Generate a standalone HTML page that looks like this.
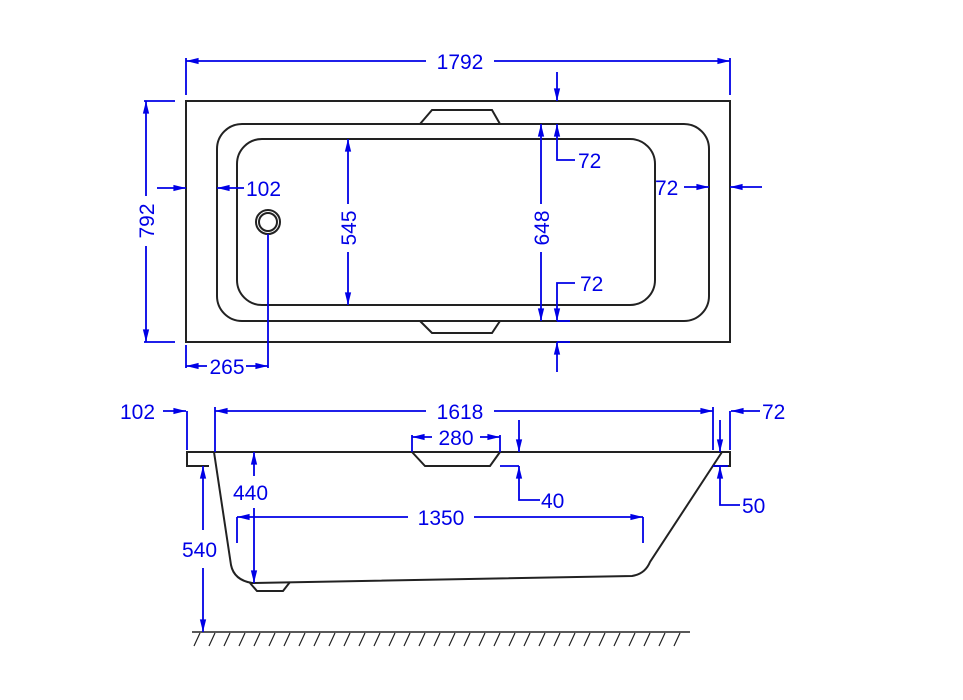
<!DOCTYPE html>
<html><head><meta charset="utf-8"><style>
html,body{margin:0;padding:0;background:#fff;}
svg{display:block;}
text{font-family:"Liberation Sans",sans-serif;font-size:21px;fill:#0000e6;}
</style></head><body>
<svg width="963" height="700" viewBox="0 0 963 700" xmlns="http://www.w3.org/2000/svg">
<defs>
<marker id="a" viewBox="0 0 14 10" refX="14" refY="5" markerWidth="14" markerHeight="9" orient="auto-start-reverse" markerUnits="userSpaceOnUse"><path d="M0,1.5 L14,5 L0,8.5 z" fill="#0000e6"/></marker>
</defs>
<g fill="none" stroke="#222" stroke-width="2">
<rect x="186" y="101" width="544" height="241"/>
<rect x="217" y="124" width="492" height="197" rx="25"/>
<rect x="237" y="139" width="418" height="166" rx="25"/>
<path d="M420,124 L432,110 L492,110 L500,124"/>
<path d="M420,321 L432,333 L492,333 L500,321"/>
<circle cx="268" cy="222" r="12"/><circle cx="268" cy="222" r="9"/>
<path d="M209,466 L187,466 L187,452 L730,452 L730,466 L713,466"/>
<path d="M214,452 L231,565 Q234,580 252,583 L632,576 Q645,574 650,562 L722,452"/>
<path d="M412,452 L425,466 L490,466 L500,452"/>
<path d="M250,583 L257,591 L283,591 L290,582"/>
<line x1="192" y1="632" x2="690" y2="632" stroke-width="1.5"/>
</g>
<g stroke="#222" stroke-width="1.2">
<path d="M200,633 l-6,13 M215,633 l-6,13 M230,633 l-6,13 M245,633 l-6,13 M260,633 l-6,13 M275,633 l-6,13 M290,633 l-6,13 M305,633 l-6,13 M320,633 l-6,13 M335,633 l-6,13 M350,633 l-6,13 M365,633 l-6,13 M380,633 l-6,13 M395,633 l-6,13 M410,633 l-6,13 M425,633 l-6,13 M440,633 l-6,13 M455,633 l-6,13 M470,633 l-6,13 M485,633 l-6,13 M500,633 l-6,13 M515,633 l-6,13 M530,633 l-6,13 M545,633 l-6,13 M560,633 l-6,13 M575,633 l-6,13 M590,633 l-6,13 M605,633 l-6,13 M620,633 l-6,13 M635,633 l-6,13 M650,633 l-6,13 M665,633 l-6,13 M680,633 l-6,13"/>
</g>
<g fill="none" stroke="#0000e6" stroke-width="1.8">
<line x1="186" y1="58" x2="186" y2="95"/><line x1="730" y1="58" x2="730" y2="95"/>
<line x1="186" y1="61" x2="426" y2="61" marker-start="url(#a)"/><line x1="494" y1="61" x2="730" y2="61" marker-end="url(#a)"/>
<line x1="144" y1="101" x2="175" y2="101"/><line x1="144" y1="342" x2="175" y2="342"/>
<line x1="146" y1="101" x2="146" y2="196" marker-start="url(#a)"/><line x1="146" y1="246" x2="146" y2="342" marker-end="url(#a)"/>
<line x1="157" y1="188" x2="186" y2="188" marker-end="url(#a)"/>
<line x1="244" y1="188" x2="217" y2="188" marker-end="url(#a)"/>
<line x1="348" y1="139" x2="348" y2="204" marker-start="url(#a)"/><line x1="348" y1="252" x2="348" y2="305" marker-end="url(#a)"/>
<line x1="541" y1="124" x2="541" y2="204" marker-start="url(#a)"/><line x1="541" y1="252" x2="541" y2="321" marker-end="url(#a)"/>
<line x1="557" y1="72" x2="557" y2="101" marker-end="url(#a)"/>
<path d="M557,124 L557,160 L575,160" marker-start="url(#a)"/>
<path d="M557,321 L557,283 L575,283" marker-start="url(#a)"/>
<line x1="557" y1="372" x2="557" y2="342" marker-end="url(#a)"/>
<line x1="557" y1="321" x2="570" y2="321"/><line x1="557" y1="342" x2="570" y2="342"/>
<line x1="684" y1="187" x2="709" y2="187" marker-end="url(#a)"/>
<line x1="762" y1="187" x2="730" y2="187" marker-end="url(#a)"/>
<line x1="186" y1="345" x2="186" y2="368"/>
<line x1="268" y1="234" x2="268" y2="368"/>
<line x1="186" y1="366" x2="207" y2="366" marker-start="url(#a)"/><line x1="246" y1="366" x2="268" y2="366" marker-end="url(#a)"/>
<line x1="215" y1="407" x2="215" y2="452"/><line x1="713" y1="407" x2="713" y2="450"/>
<line x1="215" y1="411" x2="426" y2="411" marker-start="url(#a)"/><line x1="494" y1="411" x2="713" y2="411" marker-end="url(#a)"/>
<path d="M163,411 L186,411" marker-end="url(#a)"/>
<line x1="187" y1="411" x2="187" y2="450"/>
<line x1="760" y1="411" x2="731" y2="411" marker-end="url(#a)"/>
<line x1="730" y1="411" x2="730" y2="450"/>
<line x1="720" y1="420" x2="720" y2="452" marker-end="url(#a)"/>
<line x1="412" y1="435" x2="412" y2="452"/><line x1="500" y1="435" x2="500" y2="452"/>
<line x1="412" y1="437" x2="432" y2="437" marker-start="url(#a)"/><line x1="480" y1="437" x2="500" y2="437" marker-end="url(#a)"/>
<line x1="519" y1="420" x2="519" y2="452" marker-end="url(#a)"/>
<path d="M500,466 L519,466" /><path d="M519,466 L519,500 L540,500" marker-start="url(#a)"/>
<path d="M720,466 L720,505 L740,505" marker-start="url(#a)"/>
<line x1="713" y1="466" x2="728" y2="466"/>
<line x1="254" y1="452" x2="254" y2="476" marker-start="url(#a)"/><line x1="254" y1="508" x2="254" y2="583" marker-end="url(#a)"/>
<line x1="203" y1="466" x2="203" y2="530" marker-start="url(#a)"/><line x1="203" y1="568" x2="203" y2="632" marker-end="url(#a)"/>
<line x1="237" y1="517" x2="237" y2="543"/><line x1="643" y1="517" x2="643" y2="543"/>
<line x1="237" y1="517" x2="408" y2="517" marker-start="url(#a)"/><line x1="474" y1="517" x2="643" y2="517" marker-end="url(#a)"/>
</g>
<g>
<text x="460" y="69" text-anchor="middle">1792</text>
<text transform="translate(154,221) rotate(-90)" text-anchor="middle">792</text>
<text x="246" y="196">102</text>
<text transform="translate(356,228) rotate(-90)" text-anchor="middle">545</text>
<text transform="translate(549,228) rotate(-90)" text-anchor="middle">648</text>
<text x="578" y="168">72</text>
<text x="580" y="291">72</text>
<text x="655" y="195">72</text>
<text x="227" y="374" text-anchor="middle">265</text>
<text x="460" y="419" text-anchor="middle">1618</text>
<text x="120" y="419">102</text>
<text x="762" y="419">72</text>
<text x="456" y="445" text-anchor="middle">280</text>
<text x="541" y="508">40</text>
<text x="742" y="513">50</text>
<text x="233" y="500">440</text>
<text x="182" y="557">540</text>
<text x="441" y="525" text-anchor="middle">1350</text>
</g>
</svg>
</body></html>
